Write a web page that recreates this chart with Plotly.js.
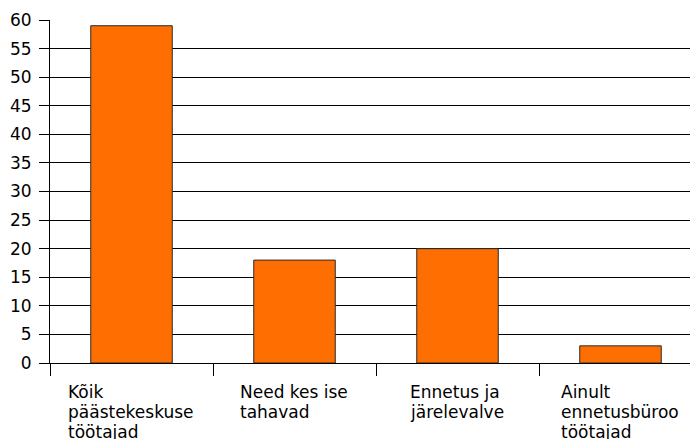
<!DOCTYPE html>
<html>
<head>
<meta charset="utf-8">
<script src="https://cdn.plot.ly/plotly-3.0.1.min.js"></script>
<style>
html,body{margin:0;padding:0;background:#fff;overflow:hidden;}
#chart{width:690px;height:439px;}
</style>
</head>
<body>
<div id="chart"></div>
<script>
const categories = ["Kõik päästekeskuse töötajad", "Need kes ise tahavad", "Ennetus ja järelevalve", "Ainult ennetusbüroo töötajad"];
const categoryLines = [
  ["Kõik", "päästekeskuse", "töötajad"],
  ["Need kes ise", "tahavad"],
  ["Ennetus ja", "järelevalve"],
  ["Ainult", "ennetusbüroo", "töötajad"]
];
const values = [59, 18, 20, 3];
const yTicks = [0, 5, 10, 15, 20, 25, 30, 35, 40, 45, 50, 55, 60];

const FONT = "DejaVu Sans";
const FS = 17;
const LINE_H = 20;

const canvas = document.createElement("canvas");
const ctx = canvas.getContext("2d");
ctx.font = FS + "px '" + FONT + "'";

const annotations = [];
categories.forEach((cat, i) => {
  const lines = categoryLines[i];
  const w = Math.max(...lines.map(l => ctx.measureText(l).width));
  lines.forEach((line, j) => {
    annotations.push({
      x: cat, xref: "x", y: 0, yref: "paper",
      xanchor: "center", yanchor: "top",
      width: Math.ceil(w) + 2, align: "left",
      text: line, showarrow: false,
      yshift: -17 - j * LINE_H,
      font: {family: FONT, size: FS, color: "#000"}
    });
  });
});

const trace = {
  type: "bar",
  x: categories,
  y: values,
  width: 0.5,
  marker: {color: "#FF6E00", line: {color: "#2b2b2b", width: 1}},
  hoverinfo: "none"
};

const layout = {
  width: 690, height: 439,
  margin: {l: 50, r: 0, t: 20, b: 76, pad: 0},
  paper_bgcolor: "#fff", plot_bgcolor: "#fff",
  showlegend: false,
  font: {family: FONT, size: FS, color: "#000"},
  xaxis: {
    type: "category",
    range: [-0.5, -0.5 + 640 / 163],
    showline: true, linecolor: "#000", linewidth: 1,
    ticks: "outside", tickson: "boundaries", ticklen: 12, tickcolor: "#000", tickwidth: 1,
    showticklabels: false, showgrid: false, zeroline: false, fixedrange: true
  },
  yaxis: {
    range: [0, 60],
    tickvals: yTicks, ticktext: yTicks.map(String),
    showline: true, linecolor: "#000", linewidth: 1,
    ticks: "outside", ticklen: 10, tickcolor: "#000", tickwidth: 1,
    ticklabelstandoff: 4,
    showgrid: true, gridcolor: "#000", gridwidth: 1,
    zeroline: false, fixedrange: true,
    tickfont: {family: FONT, size: FS, color: "#000"}
  },
  annotations: annotations
};

Plotly.newPlot("chart", [trace], layout, {staticPlot: true, displayModeBar: false});
</script>
</body>
</html>
